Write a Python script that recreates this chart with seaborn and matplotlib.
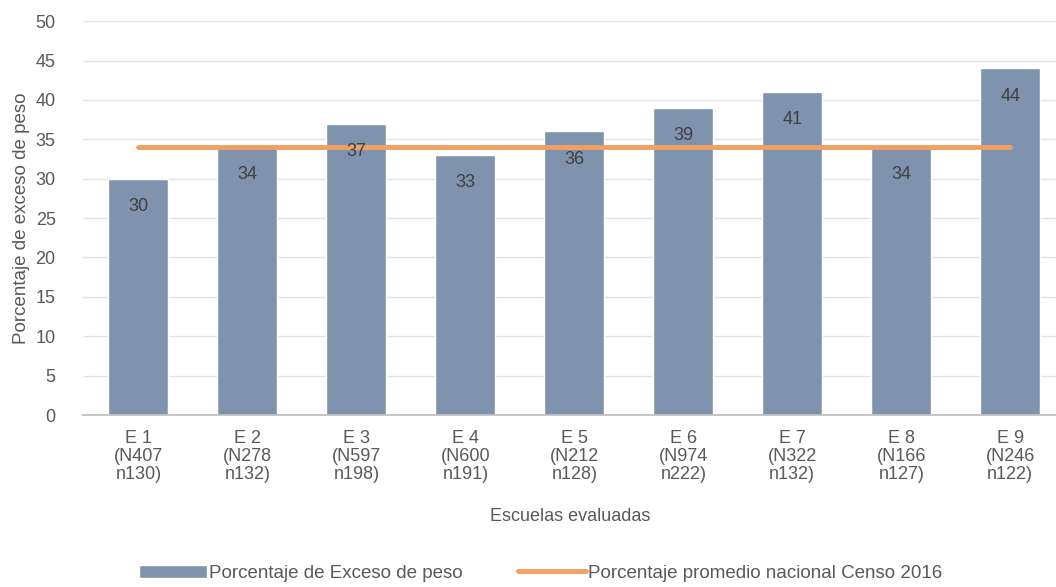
import numpy as np
import pandas as pd
import matplotlib
matplotlib.use('Agg')
import matplotlib.pyplot as plt
import seaborn as sns

# values
schools = ['E 1', 'E 2', 'E 3', 'E 4', 'E 5', 'E 6', 'E 7', 'E 8', 'E 9']
big_n = [407, 278, 597, 600, 212, 974, 322, 166, 246]
small_n = [130, 132, 198, 191, 128, 222, 132, 127, 122]
exceso = [30, 34, 37, 33, 36, 39, 41, 34, 44]
censo_2016 = [34, 34, 34, 34, 34, 34, 34, 34, 34]

bar_c = '#7F93AE'
line_c = '#F0A062'
txt_c = '#595959'

sns.set_theme(style='white')
plt.rcParams['font.family'] = ['Liberation Sans', 'DejaVu Sans']

labels = ['{}\n(N{}\nn{})'.format(s, N, n) for s, N, n in zip(schools, big_n, small_n)]
df = pd.DataFrame({'escuela': labels, 'exceso': exceso, 'censo': censo_2016})

fig = plt.figure(figsize=(10.56, 5.87), dpi=100)
ax = fig.add_axes([0.079, 0.293, 0.921, 0.671])

sns.barplot(data=df, x='escuela', y='exceso', color=bar_c, saturation=1,
            width=0.55, ax=ax, label='Porcentaje de Exceso de peso')
ax.bar_label(ax.containers[0], padding=-26, color='#404040', fontsize=13)

pos = np.arange(len(df))
sns.lineplot(x=pos, y=df['censo'], color=line_c, linewidth=3.5, ax=ax,
             label='Porcentaje promedio nacional Censo 2016')

ax.set_ylim(0, 50)
ax.set_yticks(range(0, 51, 5))
ax.set_xlim(-0.505, 8.42)
ax.yaxis.grid(True, color='#E3E3E3', linewidth=1)
ax.set_axisbelow(True)
for s in ['top', 'right', 'left']:
    ax.spines[s].set_visible(False)
ax.spines['bottom'].set_color('#BFBFBF')
ax.tick_params(axis='both', colors=txt_c, labelcolor=txt_c, labelsize=13, length=0)
ax.tick_params(axis='x', pad=11)
ax.tick_params(axis='y', pad=20)
for t in ax.get_xticklabels():
    t.set_linespacing(1.05)
ax.set_ylabel('Porcentaje de exceso de peso', color=txt_c, fontsize=13.5, labelpad=4)
ax.set_xlabel('Escuelas evaluadas', color=txt_c, fontsize=13, labelpad=18)

handles, leg_labels = ax.get_legend_handles_labels()
ax.get_legend().remove()
order = [1, 0] if 'Exceso' in leg_labels[1] else [0, 1]
fig.legend([handles[i] for i in order], [leg_labels[i] for i in order],
           loc='lower center', bbox_to_anchor=(0.512, -0.02),
           ncol=2, frameon=False, fontsize=13.5, handlelength=3.6, columnspacing=3.0,
           handletextpad=0.1, labelcolor=txt_c)

fig.savefig('out.png', dpi=100)
